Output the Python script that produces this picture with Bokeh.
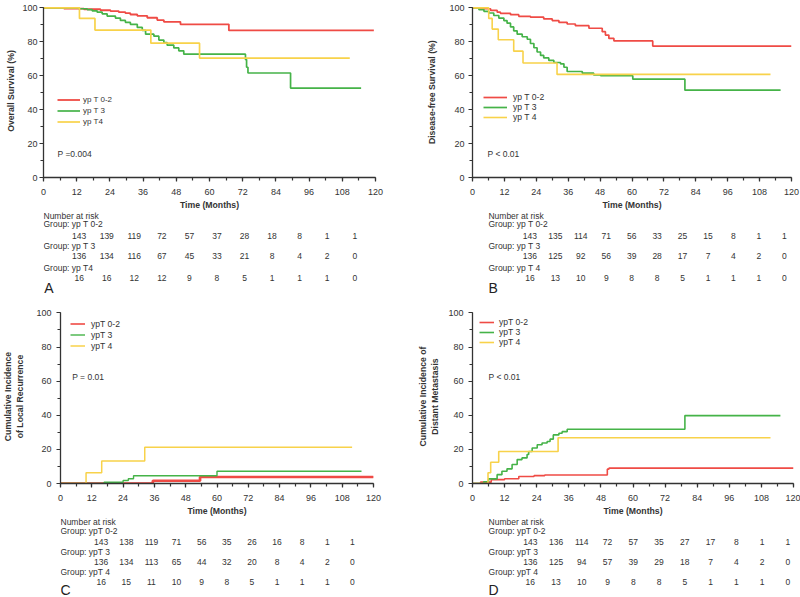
from bokeh.plotting import figure
from bokeh.models import Range1d, SingleIntervalTicker
from bokeh.layouts import column, row
from bokeh.embed import file_html
from bokeh.resources import INLINE
from bokeh.core.properties import value

FONT = "Liberation Sans"
TXT = "#333333"
RED = "#EF4B45"
GREEN = "#45B348"
YELLOW = "#F8D24A"

risk_times = [0, 12, 24, 36, 48, 60, 72, 84, 96, 108, 120]

# ---------------- Panel A: Overall survival ----------------
a_red_t = [0, 7.4, 14.6, 20.6, 24.2, 27.2, 29.6, 31.4, 33.9, 37.5, 41.1, 43.5, 49.5, 67.0, 119.4]
a_red_s = [100, 99.6, 99.2, 98.6, 98.1, 97.5, 96.9, 96.1, 95.3, 94.2, 92.8, 91.8, 90.3, 86.7, 86.7]
a_green_t = [0, 12.8, 15.8, 17.6, 19.4, 21.2, 23, 26, 27.8, 29.6, 31.4, 33.9, 35.7, 36.9, 39.9,
             41.7, 43.5, 44.7, 47.1, 48.9, 50.7, 73, 73.4, 73.9, 89.3, 114.8]
a_green_s = [100, 99.5, 99, 98.3, 97.5, 96.5, 95.2, 94, 92.6, 91.5, 90.3, 88.5, 86.7, 84.5, 83.3,
             81, 79.5, 78, 76.4, 74.7, 72.7, 69.5, 65, 61.6, 52.7, 52.7]
a_yellow_t = [0, 13.0, 18.6, 38.8, 56.4, 110.7]
a_yellow_s = [100, 93.8, 86.9, 79.2, 70.4, 70.4]
a_risk_1 = [143, 139, 119, 72, 57, 37, 28, 18, 8, 1, 1]
a_risk_2 = [136, 134, 116, 67, 45, 33, 21, 8, 4, 2, 0]
a_risk_3 = [16, 16, 12, 12, 9, 8, 5, 1, 1, 1, 0]
a_legend = ["yp T 0-2", "yp T 3", "yp T4"]
a_groups = ["Group: yp T 0-2", "Group: yp T 3", "Group: yp T4"]

# ---------------- Panel B: Disease-free survival ----------------
b_red_t = [0, 3, 6.8, 9.3, 10.5, 14.3, 17.4, 21.8, 26.8, 30, 32.5, 35.6, 38.7, 43.8, 48.8, 50,
           51.3, 53.2, 67.8, 120]
b_red_s = [100, 99.5, 98.5, 97.5, 96.8, 96, 95, 94.5, 93.5, 92.5, 91.5, 90.5, 89.5, 88, 86, 84,
           82, 80.5, 77.5, 77.5]
b_green_t = [0, 2.4, 4.3, 6.1, 8, 9.9, 11.8, 13, 14.3, 15.5, 16.8, 18.7, 20.6, 21.8, 23.1, 24.3,
             25.6, 26.8, 28.7, 30.6, 33.1, 34.4, 35.6, 41.3, 45.6, 48.2, 60.3, 79.9, 115.9]
b_green_s = [100, 99, 98, 97, 95.5, 94, 92.5, 91, 88.8, 86.5, 84.5, 83, 81.5, 79, 76.5, 74,
             72, 70.5, 69, 67.8, 67, 65, 62.5, 61.5, 60.5, 60, 58, 51.5, 51.5]
b_yellow_t = [0, 6.1, 7.4, 9.7, 15.5, 19, 31.8, 112.1]
b_yellow_s = [100, 93.8, 87.5, 81.2, 74.5, 67.5, 60.8, 60.8]
b_risk_1 = [143, 135, 114, 71, 56, 33, 25, 15, 8, 1, 1]
b_risk_2 = [136, 125, 92, 56, 39, 28, 17, 7, 4, 2, 0]
b_risk_3 = [16, 13, 10, 9, 8, 8, 5, 1, 1, 1, 0]
b_legend = ["yp T 0-2", "yp T 3", "yp T 4"]
b_groups = ["Group: yp T 0-2", "Group: yp T 3", "Group: yp T 4"]

# ---------------- Panel C: Local recurrence ----------------
c_red_t = [0, 35.4, 53.5, 120]
c_red_s = [0, 1.6, 3.8, 3.8]
c_green_t = [0, 16.7, 24, 26, 28, 60, 115.4]
c_green_s = [0, 0.7, 1.8, 2.8, 4.5, 7.2, 7.2]
c_yellow_t = [0, 9.8, 15.8, 32.3, 111.8]
c_yellow_s = [0, 6.3, 13.2, 21.3, 21.3]
c_risk_1 = [143, 138, 119, 71, 56, 35, 26, 16, 8, 1, 1]
c_risk_2 = [136, 134, 113, 65, 44, 32, 20, 8, 4, 2, 0]
c_risk_3 = [16, 15, 11, 10, 9, 8, 5, 1, 1, 1, 0]
c_legend = ["ypT 0-2", "ypT 3", "ypT 4"]
c_groups = ["Group: ypT 0-2", "Group: ypT 3", "Group: ypT 4"]

# ---------------- Panel D: Distant metastasis ----------------
d_red_t = [0, 3, 7, 12, 17.3, 23, 27, 50.4, 51, 120]
d_red_s = [0, 0.8, 2.3, 2.8, 4.1, 4.6, 5.0, 8.4, 9.0, 9.0]
d_green_t = [0, 4.2, 6, 9.2, 11, 12.9, 14.8, 16.7, 18.5, 20.4, 21, 22.3, 24.2, 26, 27.9, 29,
             30.2, 32.3, 33.5, 35.4, 79.4, 115.1]
d_green_s = [0, 1, 2.7, 5.2, 7.2, 8.6, 11.1, 14, 15, 17, 18.8, 20.8, 22.7, 23.7, 24.6, 26,
             28.5, 29.5, 30.4, 31.8, 39.8, 39.8]
d_yellow_t = [0, 5.8, 6.8, 9.8, 32, 111.4]
d_yellow_s = [0, 6.3, 12.5, 18.8, 26.8, 26.8]
d_risk_1 = [143, 136, 114, 72, 57, 35, 27, 17, 8, 1, 1]
d_risk_2 = [136, 125, 94, 57, 39, 29, 18, 7, 4, 2, 0]
d_risk_3 = [16, 13, 10, 9, 8, 8, 5, 1, 1, 1, 0]
d_legend = ["ypT 0-2", "ypT 3", "ypT 4"]
d_groups = ["Group: ypT 0-2", "Group: ypT 3", "Group: ypT 4"]

PANEL_W = 400
PANEL_H = 298
KM_BOTTOM = 34


def make_panel(curves, risks, legend, groups, ylabel, pval, letter, lay):
    l, r, t, fh = lay["l"], lay["r"], lay["t"], lay["fh"]
    km_h = t + fh + KM_BOTTOM
    p = figure(width=PANEL_W, height=km_h, x_range=Range1d(0, 120), y_range=Range1d(0, 102),
               output_backend="svg", toolbar_location=None,
               min_border_left=l, min_border_right=r,
               min_border_top=t, min_border_bottom=KM_BOTTOM)
    p.outline_line_color = None
    p.xgrid.visible = False
    p.ygrid.visible = False

    colors = [RED, GREEN, YELLOW]
    for (ts, ss), c, name, w in zip(curves, colors, legend, lay["lw"]):
        if w > 2:
            # thick curve underneath, thin copy on top carries the legend key
            p.step(ts, ss, mode="after", line_color=c, line_width=w)
            p.step(ts, ss, mode="after", line_color=c, line_width=1.6, legend_label=name)
        else:
            p.step(ts, ss, mode="after", line_color=c, line_width=w, legend_label=name)

    xa = p.xaxis[0]
    xa.ticker = SingleIntervalTicker(interval=12, num_minor_ticks=2)
    xa.bounds = (0, 120)
    xa.axis_label = "Time (Months)"
    ya = p.yaxis[0]
    ya.ticker = SingleIntervalTicker(interval=20, num_minor_ticks=2)
    ya.bounds = (0, 100)
    ya.axis_label = ylabel
    for ax in (xa, ya):
        ax.axis_line_color = TXT
        ax.axis_line_width = 1.3
        ax.major_tick_line_color = TXT
        ax.minor_tick_line_color = TXT
        ax.major_tick_line_width = 1.2
        ax.minor_tick_line_width = 1.2
        ax.major_tick_in = 0
        ax.major_tick_out = 4
        ax.minor_tick_in = 0
        ax.minor_tick_out = 3
        ax.major_label_text_font = FONT
        ax.major_label_text_font_size = "9px"
        ax.major_label_text_color = TXT
        ax.axis_label_text_font = FONT
        ax.axis_label_text_font_size = "8.7px"
        ax.axis_label_text_font_style = "bold"
        ax.axis_label_text_color = TXT
    xa.major_label_standoff = 7
    xa.axis_label_standoff = 2
    ya.major_label_standoff = lay["ystand"]
    ya.axis_label_standoff = lay["ylabstand"]

    lg = p.legend[0]
    lg.location = lay["leg"]
    lg.glyph_width = lay["gw"]
    lg.glyph_height = lay["lh"]
    lg.label_height = lay["lh"]
    lg.label_standoff = lay["ls"]
    lg.spacing = 0
    lg.padding = 0
    lg.margin = 0
    lg.border_line_alpha = 0
    lg.background_fill_alpha = 0
    lg.label_text_font = FONT
    lg.label_text_font_size = lay["legfs"]
    lg.label_text_color = TXT

    px, py = lay["p"]
    p.text(x=[px * 120 / (PANEL_W - l - r)], y=[py * 102 / fh], text=[pval],
           text_font=value(FONT), text_font_size=value("8.5px"), text_color=TXT,
           text_baseline="middle", text_align="left")

    # ---- risk table figure, sharing the month scale of the plot above ----
    rh = PANEL_H - km_h
    W = PANEL_W - l - r
    q = figure(width=PANEL_W, height=rh,
               x_range=Range1d(-l * 120 / W, (PANEL_W - l) * 120 / W),
               y_range=Range1d(-(KM_BOTTOM + rh), -KM_BOTTOM),
               output_backend="svg", toolbar_location=None,
               x_axis_type=None, y_axis_type=None,
               min_border_left=0, min_border_right=0, min_border_top=0, min_border_bottom=0)
    q.outline_line_color = None
    gx = lay["gx"] * 120 / W
    rows_y = lay["rows"]
    q.text(x=[gx], y=[rows_y[0]], text=["Number at risk"], text_font=value(FONT),
           text_font_size=value("8.5px"), text_color=TXT, text_baseline="middle",
           text_align="left")
    q.text(x=[gx] * 3, y=[rows_y[1], rows_y[3], rows_y[5]], text=groups, text_font=value(FONT),
           text_font_size=value("8.5px"), text_color=TXT, text_baseline="middle",
           text_align="left")
    for rk, ry in zip(risks, [rows_y[2], rows_y[4], rows_y[6]]):
        q.text(x=risk_times, y=[ry] * len(risk_times), text=[str(v) for v in rk],
               text_font=value(FONT), text_font_size=value("8.5px"), text_color=TXT,
               text_baseline="middle", text_align="center")
    q.text(x=[lay["lx"] * 120 / W], y=[rows_y[7]], text=[letter], text_font=value(FONT),
           text_font_size=value("14px"), text_color="#222222", text_baseline="middle",
           text_align="left")
    return column(p, q)


TOP_ROWS = [-37, -45.5, -57.3, -67.5, -77.8, -89, -99, -109]
BOT_ROWS = [-37, -46.5, -57, -67.3, -77.7, -87.3, -97.7, -105]

pa = make_panel([(a_red_t, a_red_s), (a_green_t, a_green_s), (a_yellow_t, a_yellow_s)],
                [a_risk_1, a_risk_2, a_risk_3], a_legend, a_groups,
                "Overall Survival (%)", "P =0.004", "A",
                dict(l=43, r=25, t=4, fh=174, lw=[1.8, 1.7, 1.7], ystand=2, ylabstand=3,
                     leg=(14, 50.5), gw=23, lh=11, ls=3, legfs="8px", p=(14, 24), gx=-43,
                     lx=-42, rows=TOP_ROWS))
pb = make_panel([(b_red_t, b_red_s), (b_green_t, b_green_s), (b_yellow_t, b_yellow_s)],
                [b_risk_1, b_risk_2, b_risk_3], b_legend, b_groups,
                "Disease-free Survival  (%)", "P < 0.01", "B",
                dict(l=72, r=9, t=4, fh=174, lw=[1.7, 1.7, 1.6], ystand=4, ylabstand=9,
                     leg=(11, 54.7), gw=24, lh=10, ls=6, legfs="8.6px", p=(15, 24), gx=-52,
                     lx=-52, rows=TOP_ROWS))
pc = make_panel([(c_red_t, c_red_s), (c_green_t, c_green_s), (c_yellow_t, c_yellow_s)],
                [c_risk_1, c_risk_2, c_risk_3], c_legend, c_groups,
                "Cumulative Incidence\nof Local Recurrence", "P = 0.01", "C",
                dict(l=52, r=27, t=11, fh=175, lw=[2.7, 1.4, 1.5], ystand=5, ylabstand=8,
                     leg=(10, 131.8), gw=15, lh=11, ls=6, legfs="8.6px", p=(12, 107), gx=-52,
                     lx=-52, rows=BOT_ROWS))
pd_ = make_panel([(d_red_t, d_red_s), (d_green_t, d_green_s), (d_yellow_t, d_yellow_s)],
                 [d_risk_1, d_risk_2, d_risk_3], d_legend, d_groups,
                 "Cumulative Incidence of\nDistant Metastasis", "P < 0.01", "D",
                 dict(l=72, r=7, t=11, fh=175, lw=[1.6, 1.6, 1.6], ystand=5, ylabstand=5,
                      leg=(7, 136.3), gw=15, lh=10, ls=5, legfs="8.6px", p=(16, 107), gx=-52,
                      lx=-52, rows=BOT_ROWS))

layout = column(row(pa, pb), row(pc, pd_))
open("out.html", "w").write(file_html(layout, INLINE))
